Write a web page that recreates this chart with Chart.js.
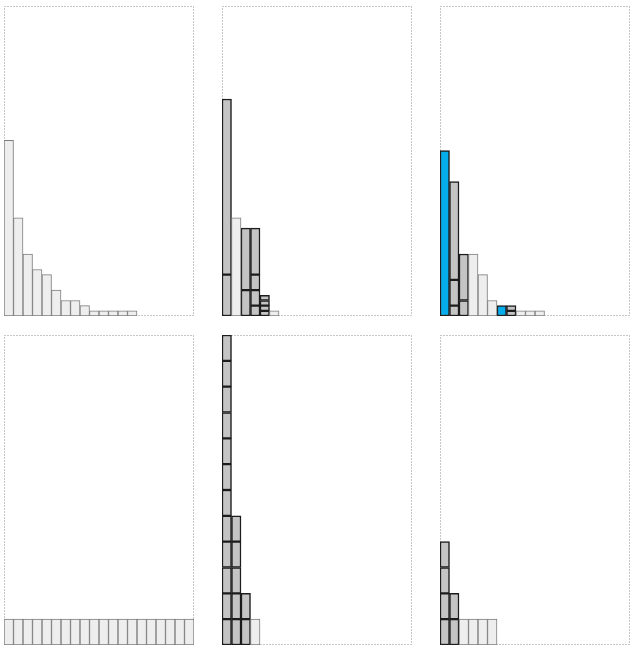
<!DOCTYPE html>
<html>
<head>
<meta charset="utf-8">
<script src="https://cdn.jsdelivr.net/npm/chart.js@4.4.0/dist/chart.umd.min.js"></script>
<style>
  html, body { margin: 0; padding: 0; background: #fff; }
  body { width: 636px; height: 648px; position: relative; overflow: hidden; }
  .panel { position: absolute; width: 190px; height: 310px; }
</style>
</head>
<body>
<div class="panel" style="left:4px;top:6px"><canvas id="topLeft"></canvas></div>
<div class="panel" style="left:222px;top:6px"><canvas id="topMid"></canvas></div>
<div class="panel" style="left:440px;top:6px"><canvas id="topRight"></canvas></div>
<div class="panel" style="left:4px;top:335px"><canvas id="lowLeft"></canvas></div>
<div class="panel" style="left:222px;top:335px"><canvas id="lowMid"></canvas></div>
<div class="panel" style="left:440px;top:335px"><canvas id="lowRight"></canvas></div>
<script>
// ==========================================
// 1. DATA
// ==========================================
const categories = ['1','2','3','4','5','6','7','8','9','10',
                    '11','12','13','14','15','16','17','18','19','20'];
const topMax = 60;
const lowMax = 12;

// top row: light bars, grey stacked segments (bottom -> top), blue bars
const topLeftLight  = [34, 19, 12, 9, 8, 5, 3, 3, 2, 1, 1, 1, 1, 1];
const topMidLight   = [0, 19, 0, 0, 0, 1];
const topMidGrey    = [[8, 34], [], [5, 12], [2, 3, 3, 9], [1, 1, 1, 1]];
const topRightLight = [0, 0, 0, 12, 8, 3, 0, 0, 1, 1, 1];
const topRightGrey  = [[], [2, 5, 19], [3, 9], [], [], [], [], [1, 1]];
const topRightBlue  = [32, 0, 0, 0, 0, 0, 2];

// bottom row: counts of unit boxes
const lowLeftLight  = [1, 1, 1, 1, 1, 1, 1, 1, 1, 1, 1, 1, 1, 1, 1, 1, 1, 1, 1, 1];
const lowMidBoxes   = [12, 5, 2];
const lowMidLight   = [0, 0, 0, 1];
const lowRightBoxes = [4, 2];
const lowRightLight = [0, 0, 1, 1, 1, 1];

// ==========================================
// 2. HELPERS
// ==========================================
const LIGHT = '#eeeeee', LIGHT_EDGE = '#7c7c7c';
const GREY = '#c4c4c4', DARK_EDGE = '#1c1c1c';
const BLUE = '#05adec';

function pad(arr) {
  return categories.map((_, i) => (arr[i] ? arr[i] : null));
}

function barSet(values, fill, edge, width) {
  return {
    data: pad(values),
    backgroundColor: fill,
    borderColor: edge,
    borderWidth: width,
    borderSkipped: false,
    stack: 's'
  };
}

// one dataset per layer of segments
function greyLayers(segments) {
  const depth = Math.max(0, ...segments.map(s => s.length));
  const sets = [];
  for (let k = 0; k < depth; k++) {
    sets.push(barSet(segments.map(s => s[k]), GREY, DARK_EDGE, 1.5));
  }
  return sets;
}

function boxes(counts) {
  return counts.map(n => Array(n).fill(1));
}

const panelBorder = {
  id: 'panelBorder',
  beforeDatasetsDraw(chart) {
    const { ctx, width, height } = chart;
    ctx.save();
    ctx.strokeStyle = '#8e8e8e';
    ctx.lineWidth = 1;
    ctx.setLineDash([1, 2]);
    ctx.strokeRect(0.5, 0.5, width - 1, height - 1);
    ctx.restore();
  }
};

function makeChart(id, max, datasets) {
  return new Chart(document.getElementById(id), {
    type: 'bar',
    data: { labels: categories, datasets: datasets },
    options: {
      responsive: true,
      maintainAspectRatio: false,
      animation: false,
      layout: { padding: 0 },
      datasets: { bar: { categoryPercentage: 1, barPercentage: 1 } },
      plugins: { legend: { display: false }, tooltip: { enabled: false } },
      scales: {
        x: { display: false, stacked: true },
        y: { display: false, stacked: true, min: 0, max: max }
      }
    },
    plugins: [panelBorder]
  });
}

// ==========================================
// 3. PANELS
// ==========================================
makeChart('topLeft', topMax, [barSet(topLeftLight, LIGHT, LIGHT_EDGE, 1)]);

makeChart('topMid', topMax, [
  barSet(topMidLight, LIGHT, LIGHT_EDGE, 1),
  ...greyLayers(topMidGrey)
]);

makeChart('topRight', topMax, [
  barSet(topRightLight, LIGHT, LIGHT_EDGE, 1),
  ...greyLayers(topRightGrey),
  barSet(topRightBlue, BLUE, DARK_EDGE, 1.5)
]);

makeChart('lowLeft', lowMax, [barSet(lowLeftLight, LIGHT, LIGHT_EDGE, 1)]);

makeChart('lowMid', lowMax, [
  barSet(lowMidLight, LIGHT, LIGHT_EDGE, 1),
  ...greyLayers(boxes(lowMidBoxes))
]);

makeChart('lowRight', lowMax, [
  barSet(lowRightLight, LIGHT, LIGHT_EDGE, 1),
  ...greyLayers(boxes(lowRightBoxes))
]);
</script>
</body>
</html>
